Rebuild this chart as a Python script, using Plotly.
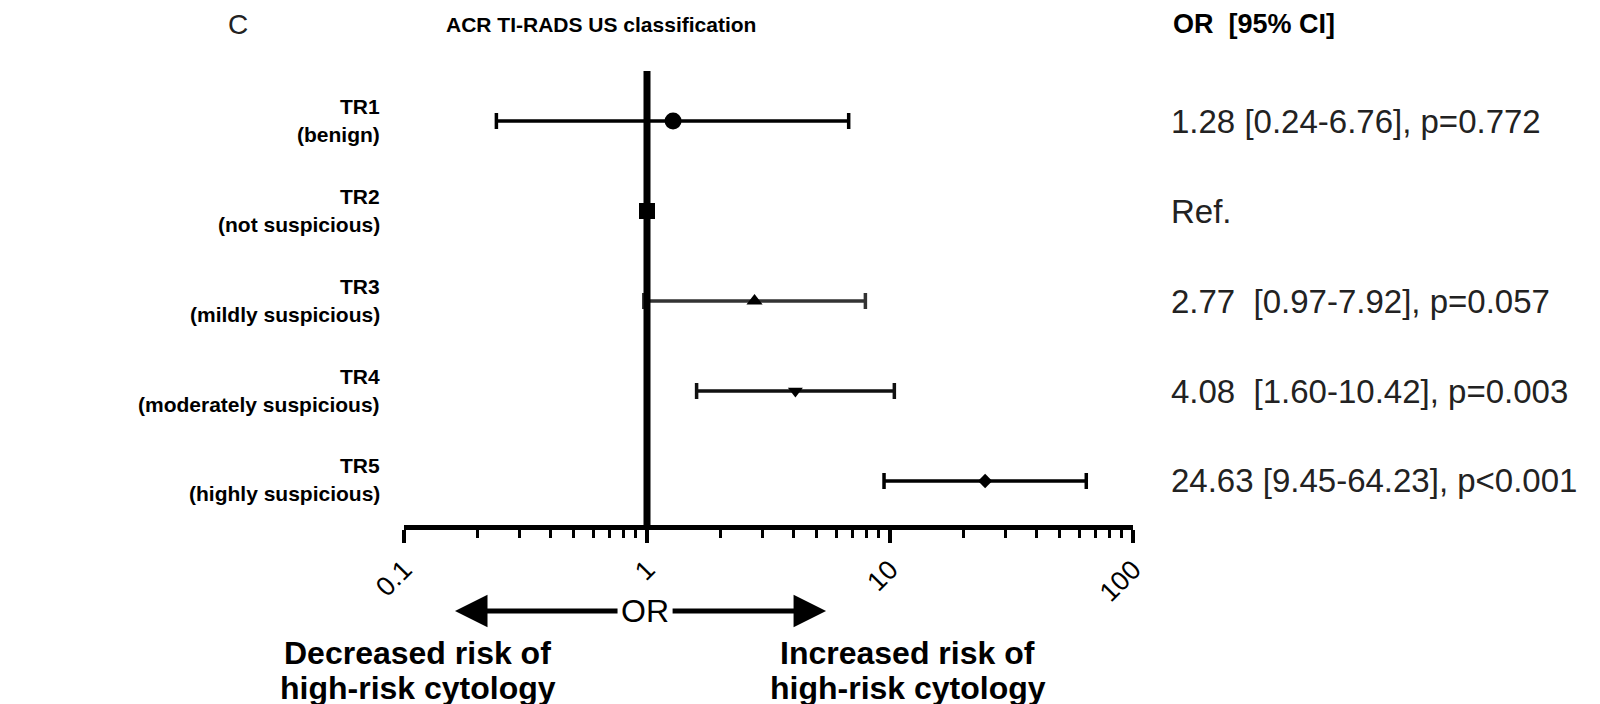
import plotly.graph_objects as go

# ---- data ----
categories = ["TR1", "TR2", "TR3", "TR4", "TR5"]
descriptions = ["(benign)", "(not suspicious)", "(mildly suspicious)",
                "(moderately suspicious)", "(highly suspicious)"]
odds_ratio = [1.28, 1.00, 2.77, 4.08, 24.63]
ci_low = [0.24, 1.00, 0.97, 1.60, 9.45]
ci_high = [6.76, 1.00, 7.92, 10.42, 64.23]
result_text = ["1.28 [0.24-6.76], p=0.772", "Ref.", "2.77\u00a0\u00a0[0.97-7.92], p=0.057",
               "4.08\u00a0\u00a0[1.60-10.42], p=0.003", "24.63 [9.45-64.23], p&lt;0.001"]
marker_symbols = ["circle", "square", "triangle-up", "triangle-down", "diamond"]
marker_sizes = [17, 16, 14, 13, 11]
bar_colors = ["#000000", "#000000", "#333333", "#111111", "#000000"]
reference_or = 1.0
tick_values = [0.1, 1, 10, 100]
tick_labels = ["0.1", "1", "10", "100"]
minor_values = [m * 10 ** e for e in (-1, 0, 1) for m in range(2, 10)]

FONT = "Liberation Sans, Arial, Helvetica, sans-serif"

fig = go.Figure()
for i, cat in enumerate(categories):
    has_ci = ci_high[i] != ci_low[i]
    fig.add_trace(go.Scatter(
        x=[odds_ratio[i]], y=[i], mode="markers",
        marker=dict(symbol=marker_symbols[i], size=marker_sizes[i], color="black"),
        error_x=dict(type="data", symmetric=False,
                     array=[ci_high[i] - odds_ratio[i]],
                     arrayminus=[odds_ratio[i] - ci_low[i]],
                     visible=has_ci, color=bar_colors[i], thickness=3.5, width=8),
        showlegend=False, hoverinfo="skip"))

annotations = []
for i, cat in enumerate(categories):
    annotations.append(dict(x=-0.030, xref="paper", y=i, yref="y", yshift=15,
                            text="<b>%s</b>" % cat, showarrow=False, xanchor="right",
                            yanchor="middle", font=dict(family=FONT, size=21, color="black")))
    annotations.append(dict(x=-0.030, xref="paper", y=i, yref="y", yshift=-13,
                            text="<b>%s</b>" % descriptions[i], showarrow=False, xanchor="right",
                            yanchor="middle", font=dict(family=FONT, size=21, color="black")))
    annotations.append(dict(x=1.049, xref="paper", y=i, yref="y",
                            text=result_text[i], showarrow=False, xanchor="left",
                            yanchor="middle", font=dict(family=FONT, size=33, color="#222222")))

# headers
annotations += [
    dict(x=-0.2277, xref="paper", y=1.1035, yref="paper", text="C", showarrow=False,
         xanchor="center", yanchor="middle", font=dict(family=FONT, size=28, color="#222")),
    dict(x=0.0549, xref="paper", y=1.1035, yref="paper", text="<b>ACR TI-RADS US classification</b>",
         showarrow=False, xanchor="left", yanchor="middle", font=dict(family=FONT, size=21, color="black")),
    dict(x=1.0521, xref="paper", y=1.1035, yref="paper", text="<b>OR\u00a0\u00a0[95% CI]</b>",
         showarrow=False, xanchor="left", yanchor="middle", font=dict(family=FONT, size=27, color="black")),
    # OR label with arrows
    dict(x=0.3306, xref="paper", y=-0.1894, yref="paper", text="OR", showarrow=False,
         xanchor="center", yanchor="middle", font=dict(family=FONT, size=32, color="black")),
    dict(x=0.070, xref="paper", y=-0.1894, yref="paper", text="", showarrow=True,
         ax=164, ay=0, arrowhead=2, arrowsize=1.3, arrowwidth=5, arrowcolor="black"),
    dict(x=0.579, xref="paper", y=-0.1894, yref="paper", text="", showarrow=True,
         ax=-155, ay=0, arrowhead=2, arrowsize=1.3, arrowwidth=5, arrowcolor="black"),
]
bottom_lines = [("Decreased risk of", 0.019, -0.282), ("high-risk cytology", 0.019, -0.359),
                ("Increased risk of", 0.691, -0.282), ("high-risk cytology", 0.691, -0.359)]
for txt, bx, by in bottom_lines:
    annotations.append(dict(x=bx, xref="paper", y=by, yref="paper", text="<b>%s</b>" % txt,
                            showarrow=False, xanchor="center", yanchor="middle",
                            font=dict(family=FONT, size=32, color="black")))

fig.update_layout(
    width=1600, height=704,
    margin=dict(l=396, r=475, t=63, b=187),
    paper_bgcolor="white", plot_bgcolor="white",
    annotations=annotations,
    shapes=[dict(type="line", xref="x", yref="paper", x0=reference_or, x1=reference_or,
                 y0=0, y1=1, line=dict(color="black", width=7), layer="above")],
    xaxis=dict(type="log", range=[-1, 2], tickvals=tick_values, ticktext=tick_labels,
               tickangle=-45, ticks="outside", ticklen=13, tickwidth=4, tickcolor="black",
               showline=True, linewidth=5, linecolor="black", showgrid=False, zeroline=False,
               tickfont=dict(family=FONT, size=27, color="black"),
               minor=dict(tickvals=minor_values, ticks="outside", ticklen=8, tickwidth=3,
                          tickcolor="black", showgrid=False)),
    yaxis=dict(range=[4.489, -0.556], showticklabels=False, ticks="", showline=False,
               showgrid=False, zeroline=False),
)

fig.write_html("out.html")
